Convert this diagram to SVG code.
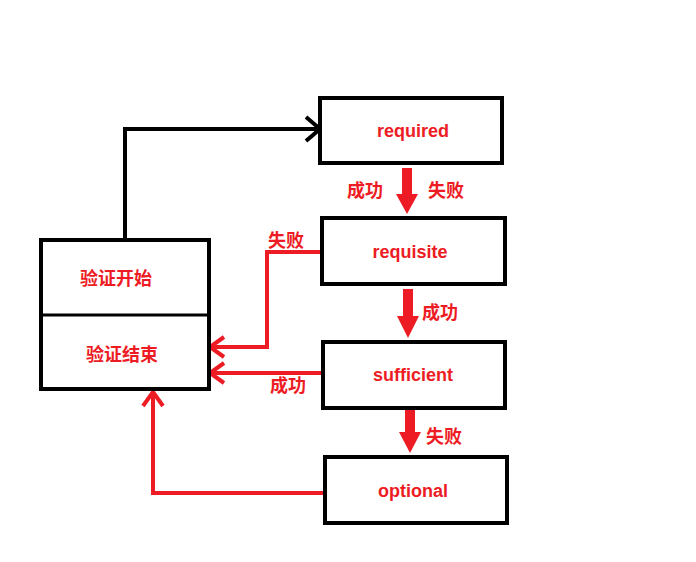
<svg xmlns="http://www.w3.org/2000/svg" width="696" height="562" viewBox="0 0 696 562">
<style>
.box{fill:#fff;stroke:#000;stroke-width:4}
.t{font-family:"Liberation Sans","Noto Sans CJK SC",sans-serif;font-weight:bold;font-size:18px;fill:#ed1c24}
.r{fill:none;stroke:#ed1c24;stroke-width:4}
.fa{fill:#ed1c24}
</style>
<rect width="696" height="562" fill="#fff"/>
<g id="connectors">
<polyline points="125,240 125,129 318,129" fill="none" stroke="#000" stroke-width="4"/>
<polyline points="306,117 320,129 306,141" fill="none" stroke="#000" stroke-width="4"/>
<polyline class="r" points="325,252 267,252 267,347 210,347"/>
<polyline class="r" points="224,337 210,347 224,357"/>
<polyline class="r" points="325,373 210,373"/>
<polyline class="r" points="224,363 210,373 224,383"/>
<polyline class="r" points="327,493 153,493 153,392"/>
<polyline class="r" points="143,406 153,392 163,406"/>
<polygon class="fa" points="402,168 412,168 412,194 418,194 407,214 396,194 402,194"/>
<polygon class="fa" points="403,289 413,289 413,316 419,316 408,338 397,316 403,316"/>
<polygon class="fa" points="405,408 415,408 415,432 421,432 410,453 399,432 405,432"/>
<text class="t" x="347" y="197">成功</text>
<text class="t" x="428" y="197">失败</text>
<text class="t" x="422" y="319">成功</text>
<text class="t" x="426" y="443">失败</text>
<text class="t" x="268" y="247">失败</text>
<text class="t" x="270" y="392">成功</text>
</g>
<g id="required"><rect class="box" x="320" y="98" width="182" height="65"/><text class="t" x="413" y="137" text-anchor="middle">required</text></g>
<g id="requisite"><rect class="box" x="322" y="218" width="183" height="66"/><text class="t" x="410" y="258" text-anchor="middle">requisite</text></g>
<g id="sufficient"><rect class="box" x="323" y="342" width="182" height="66"/><text class="t" x="413" y="381" text-anchor="middle">sufficient</text></g>
<g id="optional"><rect class="box" x="325" y="457" width="182" height="66"/><text class="t" x="413" y="497" text-anchor="middle">optional</text></g>
<g id="left"><rect class="box" x="41" y="240" width="168" height="149"/><line x1="41" y1="315" x2="209" y2="315" stroke="#000" stroke-width="3"/>
<text class="t" x="116" y="285" text-anchor="middle">验证开始</text>
<text class="t" x="122" y="361" text-anchor="middle">验证结束</text></g>
</svg>
